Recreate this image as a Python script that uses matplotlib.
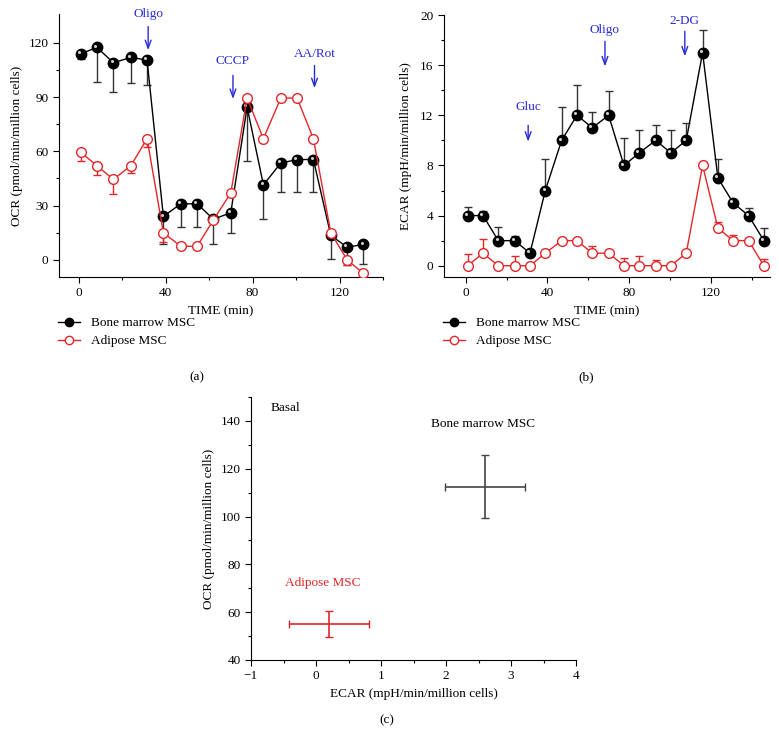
import matplotlib
matplotlib.use("Agg")
import matplotlib.pyplot as plt
from matplotlib.lines import Line2D
from matplotlib.transforms import offset_copy

plt.rcParams["font.family"] = ["Liberation Serif", "DejaVu Serif"]
plt.rcParams["font.size"] = 9.5

# Tiempos de medida (min)
tiempo = [1, 8.5, 16, 24, 31.5, 39, 47, 54.5, 62, 70, 77.5, 85, 93, 100.5, 108, 116, 123.5, 131, 138.5, 146]

# (a) OCR
ocr_medula = [114, 117.5, 109, 112, 110.5, 24, 31, 31, 22.5, 26, 84.5, 41.5, 53.5, 55.5, 55.5, 13.5, 7, 8.5]
ocr_medula_err = [3, 19, 16, 14, 14, 15, 13, 13, 14, 11, 30, 19, 16, 18, 18, 13, 10, 11]
ocr_adiposo = [59.5, 52, 44.5, 52, 67, 15, 7.5, 7.5, 22, 37, 89.5, 67, 89.5, 89.5, 67, 15, 0, -7.5]
ocr_adiposo_err = [5, 5, 8, 4, 4.5, 5, 1, 1, 1, 1, 2, 2, 1, 1, 1, 2, 3, 1]

# (b) ECAR
ecar_medula = [4, 4, 2, 2, 1, 6, 10, 12, 11, 12, 8, 9, 10, 9, 10, 17, 7, 5, 4, 2]
ecar_medula_err = [0.7, 0.4, 1.1, 0.4, 0.1, 2.5, 2.7, 2.4, 1.3, 1.9, 2.2, 1.8, 1.2, 1.8, 1.4, 1.8, 1.5, 0.1, 0.6, 1.0]
ecar_adiposo = [0, 1, 0, 0, 0, 1, 2, 2, 1, 1, 0, 0, 0, 0, 1, 8, 3, 2, 2, 0]
ecar_adiposo_err = [0.9, 1.1, 0.05, 0.75, 0.05, 0.1, 0.2, 0.1, 0.6, 0.1, 0.6, 0.77, 0.48, 0.1, 0.2, 0.1, 0.5, 0.48, 0.1, 0.56]

# Inyecciones: (texto, tiempo, y del texto, y inicio flecha, y fin flecha)
inyecciones_a = [("Oligo", 32, 136, 129, 116), ("CCCP", 71, 110, 102, 89), ("AA/Rot", 108.5, 114, 107.5, 95)]
inyecciones_b = [("Gluc", 30.6, 12.7, 11.2, 9.9), ("Oligo", 68.2, 18.8, 17.9, 15.9), ("2-DG", 107.3, 19.5, 18.7, 16.7)]

# (c) Basal
basal_grupos = ["Bone marrow MSC", "Adipose MSC"]
basal_ecar = [2.6, 0.2]
basal_ecar_err = [0.62, 0.62]
basal_ocr = [112.5, 55.2]
basal_ocr_err = [13.3, 5.5]

rojo = "#e3262a"
azul = "#2a2ad6"
gris = "#333333"

fig = plt.figure(figsize=(7.79, 7.46), dpi=100)


def estilo_ejes(ax):
    ax.spines["top"].set_visible(False)
    ax.spines["right"].set_visible(False)
    ax.tick_params(which="major", direction="out", length=4, width=0.8)
    ax.tick_params(which="minor", direction="out", length=2.5, width=0.8)


def serie_medula(ax, x, y, err, abajo):
    if abajo:
        yerr = [err, [0] * len(err)]
    else:
        yerr = [[0] * len(err), err]
    ax.errorbar(x, y, yerr=yerr, fmt="none", ecolor=gris, elinewidth=1, capsize=3, zorder=2)
    ax.plot(x, y, "-", color="black", lw=1, zorder=3)
    ax.plot(x, y, "o", color="black", ms=7.5, zorder=4)
    brillo = offset_copy(ax.transData, fig=fig, x=-1.3, y=1.3, units="points")
    ax.plot(x, y, "o", color="#d0d0d0", ms=2.2, mec="none", transform=brillo, zorder=5)


def serie_adiposo(ax, x, y, err, abajo):
    if abajo:
        yerr = [err, [0] * len(err)]
    else:
        yerr = [[0] * len(err), err]
    ax.errorbar(x, y, yerr=yerr, fmt="none", ecolor=rojo, elinewidth=1, capsize=3, zorder=6)
    ax.plot(x, y, "-o", color=rojo, lw=1, ms=7, mfc="white", mec=rojo, mew=1, zorder=7)


def flechas(ax, inyecciones):
    for texto, t, yt, y0, y1 in inyecciones:
        ax.text(t, yt, texto, color=azul, ha="center", va="center", clip_on=False)
        ax.annotate("", xy=(t, y1), xytext=(t, y0),
                    arrowprops=dict(arrowstyle="->,head_length=0.6,head_width=0.22", color=azul,
                                    lw=1, shrinkA=0, shrinkB=0),
                    annotation_clip=False)


def leyenda(x0):
    h = [Line2D([], [], color="black", marker="o", ms=6, lw=1),
         Line2D([], [], color=rojo, marker="o", ms=6, mfc="white", lw=1)]
    fig.legend(h, ["Bone marrow MSC", "Adipose MSC"], loc="upper left",
               bbox_to_anchor=(x0, 1 - 317 / 746), frameon=False, borderpad=0,
               borderaxespad=0, handlelength=1.7, handletextpad=0.8, labelspacing=0.45)


# (a)
ax1 = fig.add_axes([59 / 779, 1 - 277 / 746, 324 / 779, 263 / 746])
n = len(ocr_medula)
serie_medula(ax1, tiempo[:n], ocr_medula, ocr_medula_err, True)
serie_adiposo(ax1, tiempo[:n], ocr_adiposo, ocr_adiposo_err, True)
flechas(ax1, inyecciones_a)
ax1.set_xlim(-9, 140)
ax1.set_ylim(-9.5, 136)
ax1.set_xticks([0, 40, 80, 120])
ax1.set_xticks([20, 60, 100, 140], minor=True)
ax1.set_yticks([0, 30, 60, 90, 120])
ax1.set_yticks([15, 45, 75, 105], minor=True)
ax1.set_xlabel("TIME (min)", labelpad=4)
ax1.set_ylabel("OCR (pmol/min/million cells)", labelpad=4)
estilo_ejes(ax1)
leyenda(58 / 779)
fig.text(197 / 779, 1 - 377 / 746, "(a)", ha="center", va="center")

# (b)
ax2 = fig.add_axes([444 / 779, 1 - 277 / 746, 326 / 779, 262 / 746])
serie_medula(ax2, tiempo, ecar_medula, ecar_medula_err, False)
serie_adiposo(ax2, tiempo, ecar_adiposo, ecar_adiposo_err, False)
flechas(ax2, inyecciones_b)
ax2.set_xlim(-10.6, 149)
ax2.set_ylim(-0.9, 20)
ax2.set_xticks([0, 40, 80, 120])
ax2.set_xticks([20, 60, 100, 140], minor=True)
ax2.set_yticks([0, 4, 8, 12, 16, 20])
ax2.set_yticks([2, 6, 10, 14, 18], minor=True)
ax2.set_xlabel("TIME (min)", labelpad=4)
ax2.set_ylabel("ECAR (mpH/min/million cells)", labelpad=6)
estilo_ejes(ax2)
leyenda(443 / 779)
fig.text(586 / 779, 1 - 377 / 746, "(b)", ha="center", va="center")

# (c)
ax3 = fig.add_axes([251 / 779, 1 - 660 / 746, 325 / 779, 263 / 746])
colores_c = ["#444444", rojo]
for i in range(len(basal_grupos)):
    ax3.errorbar(basal_ecar[i], basal_ocr[i], xerr=basal_ecar_err[i], yerr=basal_ocr_err[i],
                 fmt="none", ecolor=colores_c[i], elinewidth=1.2, capsize=3)
ax3.text(2.57, 138.5, basal_grupos[0], ha="center", va="center", color="black")
ax3.text(0.11, 72.4, basal_grupos[1], ha="center", va="center", color=rojo)
ax3.text(-0.7, 145.2, "Basal", ha="left", va="center")
ax3.set_xlim(-1, 4)
ax3.set_ylim(40, 150)
ax3.set_xticks([-1, 0, 1, 2, 3, 4])
ax3.set_xticklabels(["\u22121", "0", "1", "2", "3", "4"])
ax3.set_xticks([-0.5, 0.5, 1.5, 2.5, 3.5], minor=True)
ax3.set_yticks([40, 60, 80, 100, 120, 140])
ax3.set_yticks([50, 70, 90, 110, 130, 150], minor=True)
ax3.set_xlabel("ECAR (mpH/min/million cells)", labelpad=4)
ax3.set_ylabel("OCR (pmol/min/million cells)", labelpad=4)
estilo_ejes(ax3)
fig.text(387 / 779, 1 - 720 / 746, "(c)", ha="center", va="center")

fig.savefig("out.png", dpi=100)
